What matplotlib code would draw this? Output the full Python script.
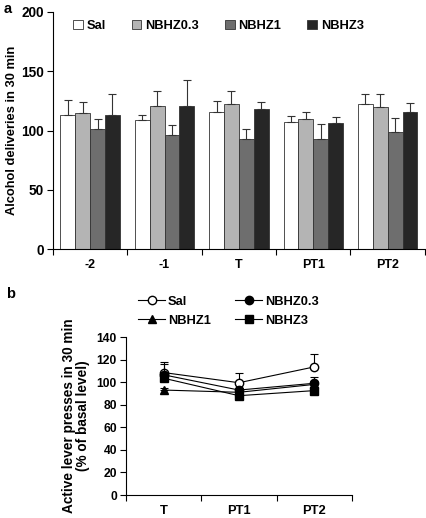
import numpy as np
import matplotlib
matplotlib.use('Agg')
import matplotlib.pyplot as plt
from matplotlib.lines import Line2D

plt.rcParams['font.family'] = ['Liberation Sans', 'DejaVu Sans']
plt.rcParams['font.weight'] = 'bold'
plt.rcParams['font.size'] = 9

# panel a data
days_a = ['-2', '-1', 'T', 'PT1', 'PT2']
groups = ['Sal', 'NBHZ0.3', 'NBHZ1', 'NBHZ3']
sal_a = [113, 109, 116, 107, 122]
sal_a_err = [13, 4, 9, 5, 9]
nb03_a = [115, 121, 122.5, 110, 120]
nb03_a_err = [9, 12, 10.5, 6, 11]
nb1_a = [101, 96, 92.5, 92.5, 98.5]
nb1_a_err = [9, 9, 9, 13, 12]
nb3_a = [113, 121, 118, 106, 115.5]
nb3_a_err = [18, 22, 6, 5, 8]

# panel b data
days_b = ['T', 'PT1', 'PT2']
sal_b = [108.5, 99.5, 113.5]
sal_b_err = [9.5, 8.5, 11.5]
nb03_b = [106.5, 93, 99]
nb03_b_err = [9.5, 2, 6]
nb1_b = [93, 91, 98]
nb1_b_err = [2, 2, 3]
nb3_b = [103.5, 88, 92.5]
nb3_b_err = [5, 3, 3]

bar_colors = ['white', '#b4b4b4', '#6e6e6e', '#262626']

fig = plt.figure(figsize=(4.27, 5.18), dpi=100)

# ---- panel a
ax = fig.add_axes([0.124, 0.519, 0.871, 0.458])
vals = [sal_a, nb03_a, nb1_a, nb3_a]
errs = [sal_a_err, nb03_a_err, nb1_a_err, nb3_a_err]
x = np.arange(len(days_a))
w = 0.2
for i in range(4):
    pos = x + (i - 1.5) * w
    ax.bar(pos, vals[i], w, color=bar_colors[i], edgecolor='#333333', linewidth=0.6,
           label=groups[i], zorder=2)
    ax.errorbar(pos, vals[i], yerr=[np.zeros(len(x)), errs[i]], fmt='none',
                ecolor='#333333', elinewidth=0.8, capsize=3, capthick=0.8, zorder=3)
ax.set_xlim(-0.5, len(days_a) - 0.5)
ax.set_ylim(0, 200)
ax.set_yticks([0, 50, 100, 150, 200])
ax.set_xticks(x)
ax.set_xticklabels(days_a, fontsize=9)
ax.set_xticks(np.arange(len(days_a) + 1) - 0.5, minor=True)
ax.tick_params(axis='x', which='major', length=0, pad=7)
ax.tick_params(axis='x', which='minor', length=4, width=0.8)
ax.tick_params(axis='y', length=4, width=0.8, labelsize=9.8, pad=2.5)
for s in ['top', 'right']:
    ax.spines[s].set_visible(False)
for s in ['left', 'bottom']:
    ax.spines[s].set_linewidth(0.8)
ax.set_ylabel('Alcohol deliveries in 30 min', fontweight='bold', fontsize=9.3, labelpad=2)
ax.legend(loc='upper center', ncol=4, frameon=False, bbox_to_anchor=(0.445, 1.015),
          handlelength=0.75, handleheight=0.75, handletextpad=0.3, columnspacing=2.0,
          prop={'weight': 'bold', 'size': 9.3})
fig.text(0.008, 0.975, 'a', fontsize=10.5, fontweight='bold')

# ---- panel b
bx = fig.add_axes([0.295, 0.0444, 0.529, 0.305])
xb = np.arange(len(days_b))
series = [sal_b, nb03_b, nb1_b, nb3_b]
serrs = [sal_b_err, nb03_b_err, nb1_b_err, nb3_b_err]
markers = ['o', 'o', '^', 's']
faces = ['white', 'black', 'black', 'black']
for i in [2, 3, 1, 0]:
    bx.errorbar(xb, series[i], yerr=[np.zeros(len(xb)), serrs[i]], color='black',
                lw=0.8, marker=markers[i], mfc=faces[i], mec='black', ms=6,
                capsize=3, capthick=0.8, elinewidth=0.8, zorder=3 + i)
bx.set_xlim(-0.5, len(days_b) - 0.5)
bx.set_ylim(0, 140)
bx.set_yticks(np.arange(0, 141, 20))
bx.set_xticks(xb)
bx.set_xticklabels(days_b, fontsize=9.3)
bx.set_xticks(np.arange(len(days_b) + 1) - 0.5, minor=True)
bx.tick_params(axis='x', which='major', length=0, pad=7)
bx.tick_params(axis='x', which='minor', length=4, width=0.8)
bx.tick_params(axis='y', length=4, width=0.8, labelsize=8.7, pad=2.5)
for s in ['top', 'right']:
    bx.spines[s].set_visible(False)
for s in ['left', 'bottom']:
    bx.spines[s].set_linewidth(0.8)
bx.set_ylabel('Active lever presses in 30 min\n(% of basal level)', fontweight='bold',
              labelpad=5, fontsize=9.8, linespacing=1.0)
handles = [Line2D([], [], color='black', lw=0.8, marker=markers[i], mfc=faces[i],
                  mec='black', ms=6) for i in range(4)]
# column-wise fill: Sal, NBHZ1 in col 1; NBHZ0.3, NBHZ3 in col 2
lorder = [0, 2, 1, 3]
fig.legend([handles[k] for k in lorder], [groups[k] for k in lorder], ncol=2,
           frameon=False, loc='center', bbox_to_anchor=(0.535, 0.399),
           handlelength=2.1, handletextpad=0.2, columnspacing=1.9, labelspacing=0.55,
           prop={'weight': 'bold', 'size': 9.3})
fig.text(0.015, 0.425, 'b', fontsize=10.5, fontweight='bold')

fig.savefig('out.png', dpi=100)
